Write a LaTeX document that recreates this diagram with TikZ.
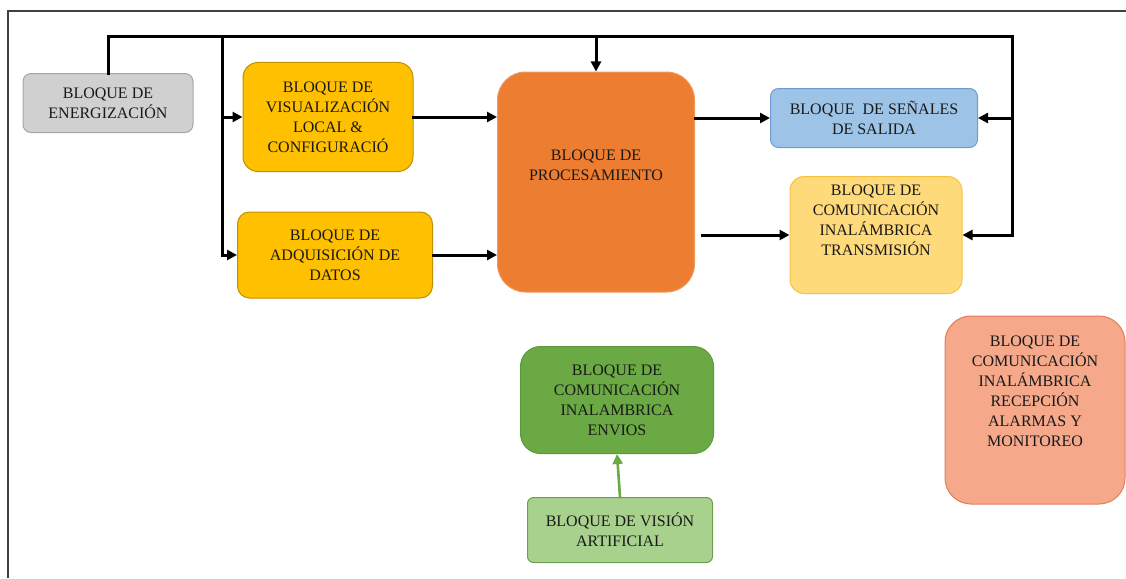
\documentclass[tikz,border=0pt]{standalone}
\usepackage{fontspec}
\setmainfont{Liberation Serif}
\usetikzlibrary{arrows.meta}
\definecolor{blqgray}{HTML}{D0D0D0}
\definecolor{blqgrayline}{HTML}{A6A6A6}
\definecolor{blqyellow}{HTML}{FFC000}
\definecolor{blqyellowline}{HTML}{C09000}
\definecolor{blqorange}{HTML}{ED7D31}
\definecolor{blqorangeline}{HTML}{F19A5E}
\definecolor{blqblue}{HTML}{9DC3E6}
\definecolor{blqblueline}{HTML}{6F9BD2}
\definecolor{blqlight}{HTML}{FFDA7A}
\definecolor{blqlightline}{HTML}{F5C242}
\definecolor{blqgreen}{HTML}{6AA943}
\definecolor{blqgreenline}{HTML}{5B9A3A}
\definecolor{blqpale}{HTML}{A9D18E}
\definecolor{blqpaleline}{HTML}{6E9E50}
\definecolor{blqsalmon}{HTML}{F5A98A}
\definecolor{blqsalmonline}{HTML}{E27D5A}

\begin{document}
\begin{tikzpicture}[x=1pt,y=-1pt,
  bloque/.style={draw,line width=1pt,align=center,inner sep=2pt,
    font=\fontsize{16}{20}\selectfont,text=black!90},
  wire/.style={line width=3pt,black,line cap=rect},
  flecha/.style={wire,-{Triangle[length=10pt,width=10pt]}}]
\useasboundingbox (0,0) rectangle (1126,578);
\draw[black!75,line width=1.3pt] (8,578) -- (8,11) -- (1126,11);
% bloques
\node[bloque,fill=blqgray,draw=blqgrayline,rounded corners=8pt,minimum width=170pt,minimum height=59pt] (ener) at (108,103) {BLOQUE DE\\ENERGIZACIÓN};
\node[bloque,fill=blqyellow,draw=blqyellowline,rounded corners=15pt,minimum width=170pt,minimum height=109pt] (visual) at (328,117) {BLOQUE DE\\VISUALIZACIÓN\\LOCAL \&\\CONFIGURACIÓ};
\node[bloque,fill=blqyellow,draw=blqyellowline,rounded corners=12pt,minimum width=195pt,minimum height=86pt] (adq) at (335,255) {BLOQUE DE\\ADQUISICIÓN DE\\DATOS};
\node[bloque,fill=blqorange,draw=blqorangeline,rounded corners=28pt,minimum width=197pt,minimum height=220pt] (proc) at (596,182) {BLOQUE DE\\PROCESAMIENTO\\[14pt]};
\node[bloque,fill=blqblue,draw=blqblueline,rounded corners=8pt,minimum width=207pt,minimum height=59pt] (senal) at (874,118) {BLOQUE~~DE SEÑALES\\DE SALIDA};
\node[bloque,fill=blqlight,draw=blqlightline,rounded corners=14pt,minimum width=172pt,minimum height=117pt] (trans) at (876,235) {BLOQUE DE\\COMUNICACIÓN\\INALÁMBRICA\\TRANSMISIÓN\\[10pt]};
\node[bloque,fill=blqgreen,draw=blqgreenline,rounded corners=20pt,minimum width=193pt,minimum height=107pt] (envio) at (617,400) {BLOQUE DE\\COMUNICACIÓN\\INALAMBRICA\\ENVIOS};
\node[bloque,fill=blqpale,draw=blqpaleline,rounded corners=6pt,minimum width=185pt,minimum height=65pt] (vision) at (620,530) {BLOQUE DE VISIÓN\\ARTIFICIAL};
\node[bloque,fill=blqsalmon,draw=blqsalmonline,rounded corners=26pt,minimum width=180pt,minimum height=188pt] (recep) at (1035,410) {BLOQUE DE\\COMUNICACIÓN\\INALÁMBRICA\\RECEPCIÓN\\ALARMAS Y\\MONITOREO\\[18pt]};
% conexiones
\coordinate (topR) at (1012,37);
\coordinate (branch) at (222,37);
\draw[flecha] (ener.north) |- (topR) |- (trans.east);
\draw[flecha] (topR) |- (senal.east);
\draw[flecha] (branch) |- (visual.west);
\draw[flecha] (branch) |- (adq.west);
\draw[flecha] (proc.north |- branch) -- (proc.north);
\draw[flecha] (visual.east) -- (visual.east -| proc.west);
\draw[flecha] (adq.east) -- (adq.east -| proc.west);
\draw[flecha] (senal.west -| proc.east) -- (senal.west);
\draw[flecha] ([xshift=7pt]trans.west -| proc.east) -- (trans.west);
\draw[flecha,blqgreen,line width=2.6pt] (vision.north) -- (envio.south);
\end{tikzpicture}
\end{document}
